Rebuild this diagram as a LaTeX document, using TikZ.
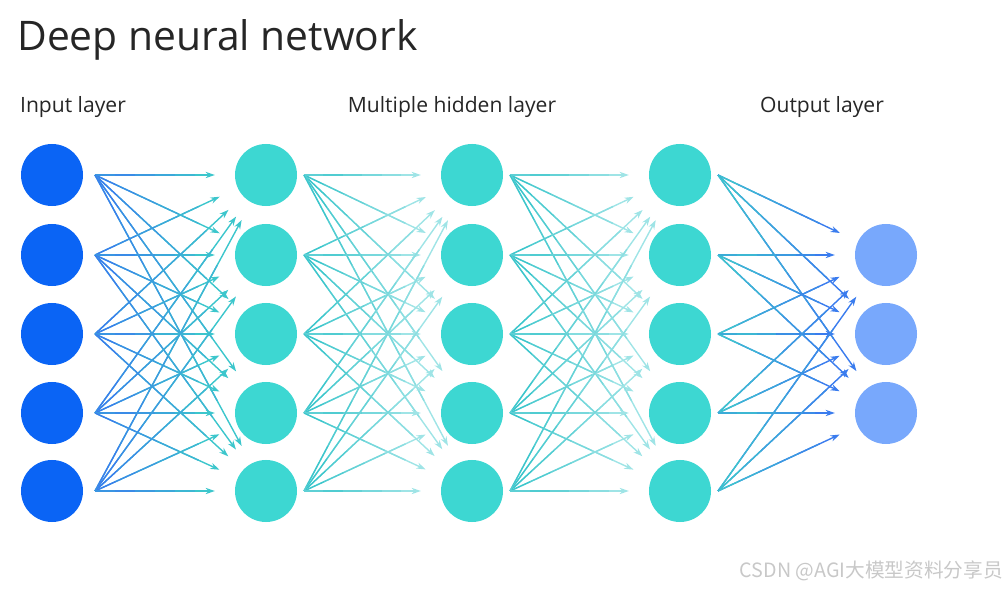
\documentclass[tikz,border=0pt]{standalone}
\usepackage{fontspec}
\setmainfont{Open Sans}
\newfontfamily\cjkfont{Noto Sans CJK SC}
\usetikzlibrary{arrows.meta, calc}
\definecolor{inblue}{HTML}{0A64F5}
\definecolor{hidteal}{HTML}{3DD7D2}
\definecolor{outblue}{HTML}{78A8FC}
\definecolor{linkblue}{HTML}{3A7CEE}
\definecolor{linkteal}{HTML}{3CC6CC}
\definecolor{linkpale}{HTML}{9FE4E6}
\definecolor{marktext}{HTML}{C8C8C8}

% arrow from #1 to node #2, colour running from #3 to #4
\newcommand{\gradlink}[4]{%
  \coordinate (lk-e) at ($(#2.center)!1.28cm!(#1)$);
  \draw[linkline, draw=#4, -{Stealth[length=6.5pt,width=4.5pt]}] (#1) -- (lk-e);
  \foreach \n in {0,...,4} {
    \pgfmathtruncatemacro{\mix}{100-\n*20}
    \draw[linkline, draw=#3!\mix!#4] ($(#1)!\n/6!(lk-e)$) -- ($(#1)!\n/6+1/6!(lk-e)$);
  }%
}

\begin{document}
\begin{tikzpicture}[x=0.025cm, y=-0.025cm,
  neuron/.style={circle, minimum size=1.55cm, inner sep=0pt},
  linkline/.style={line width=1pt},
  layertitle/.style={font=\fontsize{15}{18}\selectfont, text=black!85, anchor=base}]
  \useasboundingbox (0,0) rectangle (1008,589);

  % titles
  \node[font=\fontsize{29}{34}\selectfont, text=black!85, anchor=base west,
        inner sep=0pt] (title) at (17,51) {Deep neural network};
  \node[layertitle] (intitle) at (73,113) {Input layer};
  \node[layertitle] (hidtitle) at (452,113) {Multiple hidden layer};
  \node[layertitle] (outtitle) at (822,113) {Output layer};

  % neurons
  \foreach \j/\y in {1/175, 2/255, 3/334, 4/413, 5/491} {
    \node[neuron, fill=inblue] (in-\j) at (52,\y) {};
    \coordinate (s0-\j) at (95,\y);
    \foreach \l/\x in {1/266, 2/472, 3/680} {
      \node[neuron, fill=hidteal] (h\l-\j) at (\x,\y) {};
      \coordinate (s\l-\j) at (\x+38,\y);
    }
  }
  \foreach \k/\y in {1/255, 2/334, 3/413}
    \node[neuron, fill=outblue] (out-\k) at (886,\y) {};

  % connections
  \foreach \i in {1,...,5} {
    \foreach \j in {1,...,5} {
      \gradlink{s0-\i}{h1-\j}{linkblue}{linkteal}
      \gradlink{s1-\i}{h2-\j}{linkteal}{linkpale}
      \gradlink{s2-\i}{h3-\j}{linkteal}{linkpale}
    }
    \foreach \k in {1,2,3} {
      \gradlink{s3-\i}{out-\k}{linkteal}{linkblue}
    }
  }

  % watermark
  \node[font=\cjkfont\fontsize{14}{16}\selectfont, text=marktext, anchor=base east]
    (mark) at (1008,578) {CSDN @AGI大模型资料分享员};
\end{tikzpicture}
\end{document}
